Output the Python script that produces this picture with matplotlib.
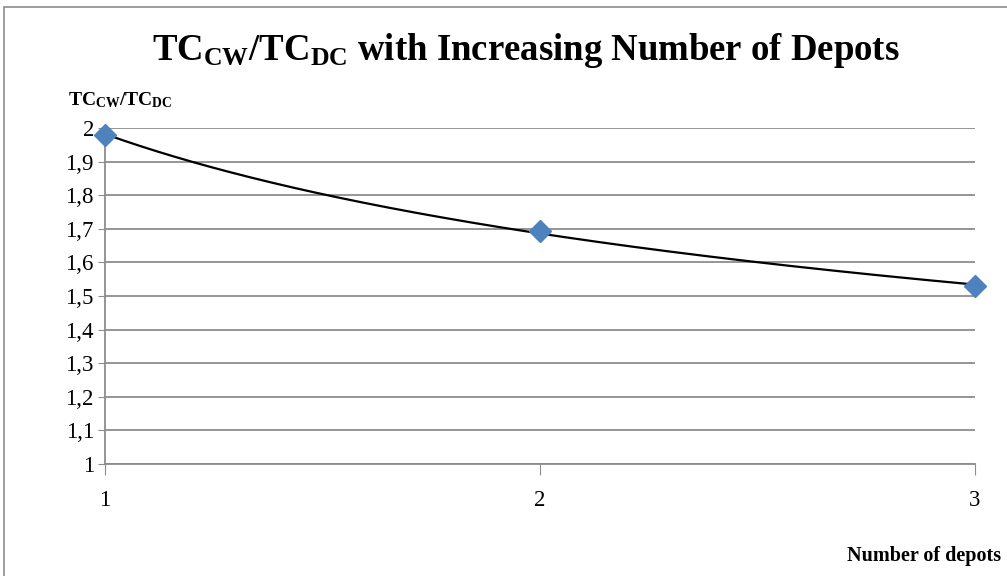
import numpy as np
import matplotlib
matplotlib.use("Agg")
import matplotlib.pyplot as plt
from matplotlib.patches import Rectangle

# Data
depots = [1, 2, 3]
ratio = [1.979, 1.693, 1.530]
y_ticks = [1.0, 1.1, 1.2, 1.3, 1.4, 1.5, 1.6, 1.7, 1.8, 1.9, 2.0]
y_tick_labels = ["1", "1,1", "1,2", "1,3", "1,4", "1,5", "1,6", "1,7", "1,8", "1,9", "2"]
x_ticks = [1, 2, 3]

plt.rcParams['font.family'] = ['Liberation Serif', 'DejaVu Serif']
plt.rcParams['mathtext.fontset'] = 'custom'
plt.rcParams['mathtext.rm'] = 'Liberation Serif'
plt.rcParams['mathtext.bf'] = 'Liberation Serif:bold'
plt.rcParams['mathtext.it'] = 'Liberation Serif:italic'

fig = plt.figure(figsize=(10.07, 5.76), dpi=100)
ax = fig.add_axes([105/1007, 1-464/576, 870/1007, 336/576])

# Power trendline fitted to the data
b, lna = np.polyfit(np.log(depots), np.log(ratio), 1)
xs = np.linspace(min(depots), max(depots), 200)
ax.plot(xs, np.exp(lna) * xs**b, color='black', lw=1.6, zorder=3)
ax.plot(depots, ratio, linestyle='none', marker='D', markersize=11,
        color='#4F81BD', markeredgecolor='#4F81BD', zorder=4, clip_on=False)

ax.set_xlim(1, 3)
ax.set_ylim(1, 2)
ax.set_yticks(y_ticks)
ax.set_yticklabels(y_tick_labels)
ax.set_xticks(x_ticks)
ax.set_xticklabels([str(v) for v in x_ticks])
ax.grid(axis='y', color='#8c8c8c', lw=1.3)
ax.set_axisbelow(True)
for s in ['top', 'right']:
    ax.spines[s].set_visible(False)
ax.spines['left'].set_color('#8c8c8c')
ax.spines['bottom'].set_color('#8c8c8c')
ax.spines['left'].set_linewidth(1.3)
ax.spines['bottom'].set_linewidth(1.3)
ax.tick_params(axis='y', length=5, color='#8c8c8c', labelsize=16.5, pad=3)
ax.tick_params(axis='x', length=8, color='#8c8c8c', labelsize=16.5, pad=11)

fig.text(526/1007, 1-50/576, r'$\mathbf{TC_{CW}/TC_{DC}}$ with Increasing Number of Depots',
         ha='center', va='center', fontsize=26.5, fontweight='bold')
fig.text(68/1007, 1-100/576, r'$\mathbf{TC_{CW}/TC_{DC}}$', ha='left', va='center',
         fontsize=14, fontweight='bold')
fig.text(1001/1007, 1-556/576, 'Number of depots', ha='right', va='center',
         fontsize=14.5, fontweight='bold')

fig.patches.append(Rectangle((4/1007, -0.1), 1.1, 1 - 7/576 + 0.1,
                             transform=fig.transFigure, fill=False,
                             edgecolor='#8c8c8c', lw=1.2))

fig.savefig('out.png', dpi=100)
